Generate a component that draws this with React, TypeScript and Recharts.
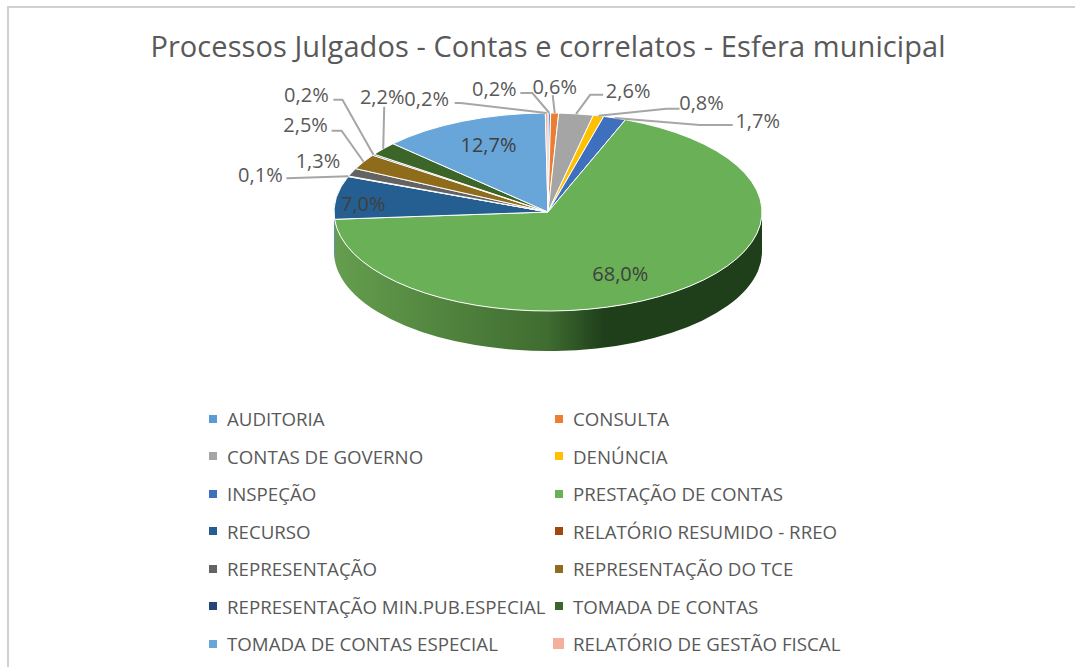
import React from 'react';
import { PieChart, Pie, Legend } from 'recharts';

const TITLE = 'Processos Julgados - Contas e correlatos - Esfera municipal';

const CATEGORIES = [
  'AUDITORIA',
  'CONSULTA',
  'CONTAS DE GOVERNO',
  'DENÚNCIA',
  'INSPEÇÃO',
  'PRESTAÇÃO DE CONTAS',
  'RECURSO',
  'RELATÓRIO RESUMIDO - RREO',
  'REPRESENTAÇÃO',
  'REPRESENTAÇÃO DO TCE',
  'REPRESENTAÇÃO MIN.PUB.ESPECIAL',
  'TOMADA DE CONTAS',
  'TOMADA DE CONTAS ESPECIAL',
  'RELATÓRIO DE GESTÃO FISCAL',
];

const SHARES = [0.2, 0.6, 2.6, 0.8, 1.7, 68.0, 7.0, 0.1, 1.3, 2.5, 0.2, 2.2, 12.7, 0.2];

const COLORS = [
  '#5b9bd5', '#ed7d31', '#a5a5a5', '#ffc000', '#3f70bd', '#69b057', '#255e91',
  '#9e480e', '#636363', '#8f6c1c', '#264478', '#3c6529', '#68a6d9', '#f4b09c',
];

const pieData = CATEGORIES.map((name, i) => ({ name, value: SHARES[i], fill: COLORS[i] }));

// 3D look: the pie is squashed into an ellipse with a wall under it
const CX = 548;
const CY = 212;
const RX = 214;
const RY = 99;
const DEPTH = 40;

// manual label placement, offsets from the slice's point on the rim.
// text = label centre, line = leader points going outwards from the rim
const LABEL_OFFSETS: { text: number[]; line?: number[][] }[] = [
  { text: [-55, -25], line: [[-17, -20], [-29, -20]] },
  { text: [0, -27], line: [[-2, -18]] },
  { text: [52, -23], line: [[14, -19], [27, -19]] },
  { text: [103, -13], line: [[68, -7], [81, -7]] },
  { text: [143, 3], line: [[85, 7], [118, 7]] },
  { text: [-55, -18] },
  { text: [27, 6] },
  { text: [-88, -2], line: [[-62, 2]] },
  { text: [-34, -12] },
  { text: [-58, -37], line: [[-22, -31], [-32, -31]] },
  { text: [-67, -60], line: [[-31, -55], [-40, -55]] },
  { text: [-1, -52], line: [[1, -42]] },
  { text: [26, 23] },
  { text: [-120, -15], line: [[-86, -10], [-92, -10]] },
];

const INSIDE = ['PRESTAÇÃO DE CONTAS', 'RECURSO', 'TOMADA DE CONTAS ESPECIAL'];

const FONT = '"Open Sans", sans-serif';

const rimPoint = (angle: number, drop = 0) => {
  const rad = (-angle * Math.PI) / 180;
  return { x: CX + RX * Math.cos(rad), y: CY + RY * Math.sin(rad) + drop };
};

const TopSlice = ({ startAngle, endAngle, fill }: any) => {
  const a = rimPoint(startAngle);
  const b = rimPoint(endAngle);
  const large = Math.abs(endAngle - startAngle) > 180 ? 1 : 0;
  const d = `M${CX},${CY} L${a.x},${a.y} A${RX},${RY} 0 ${large} 1 ${b.x},${b.y} Z`;
  return <path d={d} fill={fill} stroke="#ffffff" strokeWidth={1} strokeLinejoin="round" />;
};

// only the part of a slice facing the viewer has a wall (angles -180..0)
const WallSlice = ({ startAngle, endAngle, fill, index }: any) => {
  const from = Math.min(startAngle, 0);
  const to = Math.max(endAngle, -180);
  if (from <= to) return null;
  const a = rimPoint(from);
  const b = rimPoint(to);
  const c = rimPoint(to, DEPTH);
  const e = rimPoint(from, DEPTH);
  const d = `M${a.x},${a.y} A${RX},${RY} 0 0 1 ${b.x},${b.y} L${c.x},${c.y} A${RX},${RY} 0 0 0 ${e.x},${e.y} Z`;
  const main = CATEGORIES[index] === 'PRESTAÇÃO DE CONTAS';
  return <path d={d} fill={main ? 'url(#wallGreen)' : fill} stroke="none" />;
};

const renderLabel = ({ midAngle, index, value }: any) => {
  const rim = rimPoint(midAngle);
  const { text, line } = LABEL_OFFSETS[index];
  const points = [rim, ...(line || []).map(([dx, dy]) => ({ x: rim.x + dx, y: rim.y + dy }))];
  const inside = INSIDE.includes(CATEGORIES[index]);
  return (
    <g key={index}>
      {line && (
        <polyline
          points={points.map((p) => `${p.x},${p.y}`).join(' ')}
          fill="none"
          stroke="#a6a6a6"
          strokeWidth={2}
        />
      )}
      <text
        x={rim.x + text[0]}
        y={rim.y + text[1]}
        textAnchor="middle"
        dominantBaseline="central"
        fontFamily={FONT}
        fontSize={20}
        fill={inside ? '#404040' : '#595959'}
      >
        {value.toFixed(1).replace('.', ',') + '%'}
      </text>
    </g>
  );
};

const renderLegend = () => (
  <div style={{ display: 'grid', gridTemplateColumns: '346px 400px', rowGap: 0, marginLeft: 209 }}>
    {pieData.map((d) => {
      const big = d.name === 'RELATÓRIO DE GESTÃO FISCAL';
      return (
        <div key={d.name} style={{ display: 'flex', alignItems: 'center', height: 37.5, fontFamily: FONT, fontSize: 18.7, color: '#595959', whiteSpace: 'nowrap' }}>
          <span style={{ width: 18, flex: 'none', display: 'flex', alignItems: 'center' }}>
            <span style={{ display: 'block', width: big ? 11 : 8, height: big ? 11 : 8, marginLeft: big ? -2 : 0, background: d.fill }} />
          </span>
          {d.name}
        </div>
      );
    })}
  </div>
);

export default function App() {
  return (
    <div style={{ position: 'absolute', left: 0, top: 0, width: 1075, height: 667, background: '#ffffff', overflow: 'hidden' }}>
      <div style={{ position: 'absolute', left: 7, top: 6, width: 1100, height: 700, borderLeft: '2px solid #d0d0d0', borderTop: '2px solid #d0d0d0' }} />
      <PieChart width={1075} height={667} style={{ position: 'absolute', left: 0, top: 0 }}>
        <defs>
          <linearGradient id="wallGreen" gradientUnits="userSpaceOnUse" x1={CX - RX} y1={0} x2={CX + RX} y2={0}>
            <stop offset="0" stopColor="#659e4e" />
            <stop offset="0.5" stopColor="#3f6c30" />
            <stop offset="0.63" stopColor="#1f3f1b" />
            <stop offset="1" stopColor="#1f3f1b" />
          </linearGradient>
        </defs>
        <text x={548} y={45} textAnchor="middle" dominantBaseline="central" fontFamily={FONT} fontSize={29} letterSpacing={0.07} fill="#595959">
          {TITLE}
        </text>
        <Pie
          data={pieData}
          dataKey="value"
          nameKey="name"
          cx={CX}
          cy={CY}
          outerRadius={RX}
          startAngle={90}
          endAngle={-270}
          shape={WallSlice}
          legendType="none"
          isAnimationActive={false}
        />
        <Pie
          data={pieData}
          dataKey="value"
          nameKey="name"
          cx={CX}
          cy={CY}
          outerRadius={RX}
          startAngle={90}
          endAngle={-270}
          shape={TopSlice}
          label={renderLabel}
          labelLine={false}
          isAnimationActive={false}
        />
        <Legend content={renderLegend} wrapperStyle={{ position: 'absolute', left: 0, top: 400, width: 1075 }} />
      </PieChart>
    </div>
  );
}
